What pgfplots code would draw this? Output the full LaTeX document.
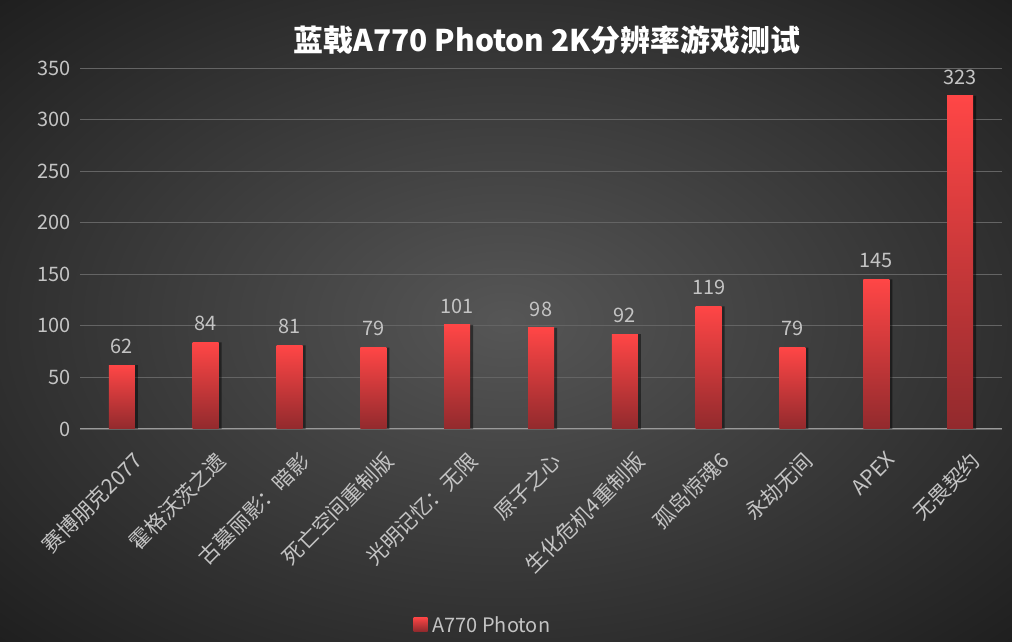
\documentclass[border=0pt]{standalone}
\usepackage{pgfplots}
\pgfplotsset{compat=1.18}
\usepackage{fontspec}
\setmainfont{Noto Sans CJK SC}
\definecolor{bgin}{HTML}{565656}
\definecolor{bgout}{HTML}{1E1E1E}
\definecolor{txt}{HTML}{C4C4C4}
\definecolor{gridc}{HTML}{646464}
\definecolor{axisc}{HTML}{9A9A9A}
\definecolor{bartop}{HTML}{FF4646}
\definecolor{barbot}{HTML}{922A2D}
\pgfdeclareradialshading{bgshade}{\pgfpoint{0bp}{0bp}}{color(0bp)=(bgin); color(36bp)=(bgout); color(50bp)=(bgout)}
\begin{document}
\begin{tikzpicture}[x=1bp,y=1bp]
\useasboundingbox (0,0) rectangle (1012,642);
\fill[shading=bgshade] (0,0) rectangle (1012,642);
\node[font=\fontsize{30}{31}\selectfont\bfseries, text=white] at (547,602) {蓝戟A770 Photon 2K分辨率游戏测试};
\begin{axis}[
  at={(80bp,213bp)}, anchor=south west,
  scale only axis, width=922bp, height=361bp,
  xmin=-0.5, xmax=10.5, ymin=0, ymax=350,
  ytick={0,50,...,350},
  xtick={0,...,10},
  xticklabels={赛博朋克2077,霍格沃茨之遗,古墓丽影：暗影,死亡空间重制版,光明记忆：无限,原子之心,生化危机4重制版,孤岛惊魂6,永劫无间,APEX,无畏契约},
  ymajorgrids, grid style={gridc, line width=0.8pt},
  axis x line*=bottom, axis y line*=left,
  x axis line style={axisc, line width=1pt, -},
  y axis line style={draw=none},
  major tick length=0pt,
  ybar, bar width=26bp,
  /pgf/number format/assume math mode=true,
  yticklabel style={font=\fontsize{20}{20}\selectfont, text=txt, xshift=-6bp},
  xticklabel style={font=\fontsize{21}{21}\selectfont, text=txt, rotate=45, anchor=north east, xshift=-5bp, yshift=-18bp},
  clip=false,
  legend style={at={(0.437,-0.543)}, anchor=center, draw=none, fill=none, font=\fontsize{20}{20}\selectfont, text=txt},
  legend image code/.code={\fill[top color=bartop, bottom color=barbot] (0bp,-6bp) rectangle (14bp,8bp);},
  nodestyle/.style={nodes near coords, every node near coord/.append style={font=\fontsize{20}{20}\selectfont, text=txt, yshift=8bp}},
  barstyle/.style={draw=none, top color=bartop, bottom color=barbot, bar shift=0bp},
]
\addplot[forget plot, fill=black, fill opacity=0.45, draw=none, bar shift=3bp] coordinates {(0,62) (1,84) (2,81) (3,79) (4,101) (5,98) (6,92) (7,119) (8,79) (9,145) (10,323)};
\addplot[barstyle, nodestyle] coordinates {(0,62)};
\addlegendentry{\hspace{3bp}A770 Photon}
\addplot[barstyle, nodestyle, forget plot] coordinates {(1,84)};
\addplot[barstyle, nodestyle, forget plot] coordinates {(2,81)};
\addplot[barstyle, nodestyle, forget plot] coordinates {(3,79)};
\addplot[barstyle, nodestyle, forget plot] coordinates {(4,101)};
\addplot[barstyle, nodestyle, forget plot] coordinates {(5,98)};
\addplot[barstyle, nodestyle, forget plot] coordinates {(6,92)};
\addplot[barstyle, nodestyle, forget plot] coordinates {(7,119)};
\addplot[barstyle, nodestyle, forget plot] coordinates {(8,79)};
\addplot[barstyle, nodestyle, forget plot] coordinates {(9,145)};
\addplot[barstyle, nodestyle, forget plot] coordinates {(10,323)};
\end{axis}
\end{tikzpicture}
\end{document}
